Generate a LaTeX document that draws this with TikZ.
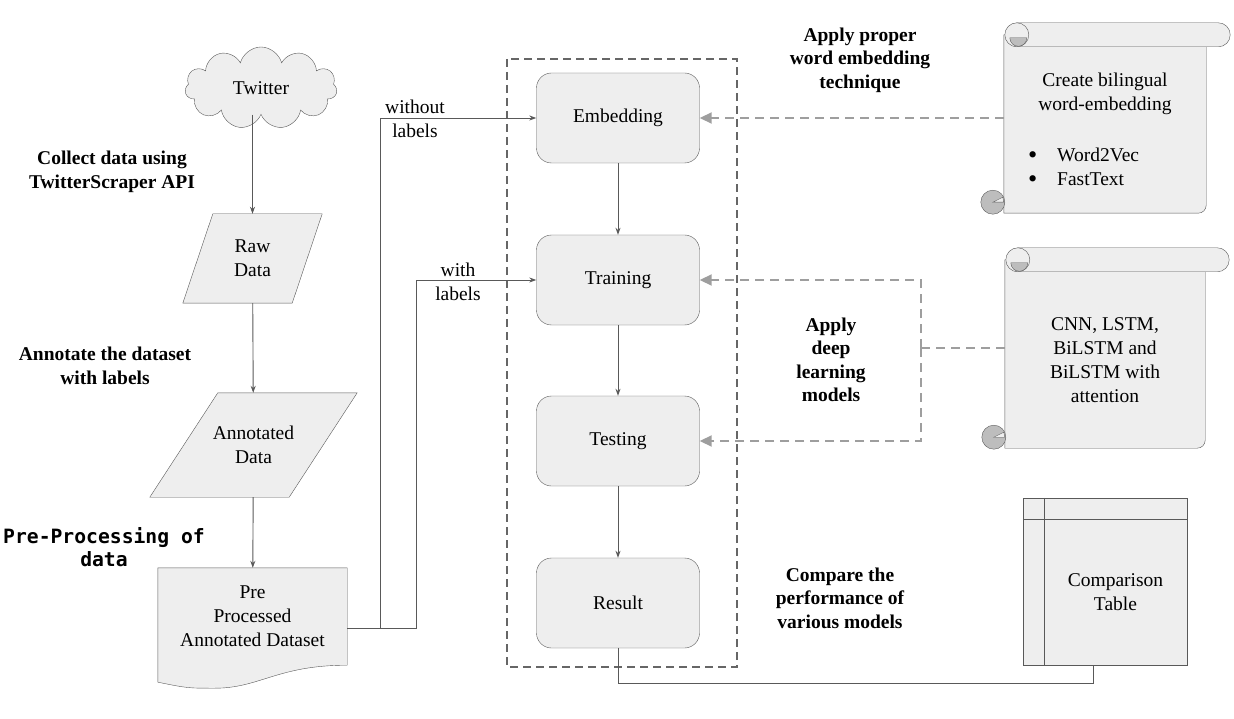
\documentclass[tikz,border=0pt]{standalone}
\usepackage{fontspec}
\setmainfont{Liberation Serif}
\newfontfamily\codefont{DejaVu Sans Mono}
\usetikzlibrary{positioning, arrows.meta, calc, shapes.symbols, backgrounds}
\definecolor{linea}{HTML}{595959}
\definecolor{relleno}{HTML}{EEEEEE}
\definecolor{sombra}{HTML}{BDBDBD}
\definecolor{trazo}{HTML}{9E9E9E}
\definecolor{grupo}{HTML}{666666}

% parallelogram behind a node
\newcommand{\slantbox}[2]{%
  \draw[draw=linea, fill=relleno] (#1.south west) -- ($(#1.north west)+(#2,0)$)
    -- (#1.north east) -- ($(#1.south east)-(#2,0)$) -- cycle;}
% scroll behind a node
\newcommand{\scrollframe}[1]{%
  \draw[draw=linea, fill=relleno] ($(#1.north west)+(0,-12)$) -- (#1.south west)
    -- ($(#1.south east)+(-8,0)$) arc[start angle=90, end angle=0, radius=8]
    -- ($(#1.north east)+(0,-12)$) -- cycle;
  \draw[draw=linea, fill=relleno, rounded corners=11.9pt] ($(#1.north west)+(2,-24)$) rectangle ($(#1.north east)+(24,0)$);
  \draw[draw=linea, fill=relleno] ($(#1.north west)+(13,-12)$) circle[radius=12];
  \draw[draw=linea, fill=sombra] ($(#1.north west)+(6,-9)$) arc[start angle=180, end angle=0, radius=8.5] -- cycle;
  \draw[draw=linea, fill=sombra] ($(#1.south west)+(-11,-11)$) circle[radius=12];
  \draw[draw=linea, fill=relleno] ($(#1.south west)+(-11,-11)$) -- ($(#1.south west)+(-1,-16)$)
    -- ($(#1.south west)+(0,-11)$) -- cycle;}
\newcommand{\bigdot}{\raisebox{-2pt}{\scalebox{1.35}{\textbullet}}}

\begin{document}
\begin{tikzpicture}[x=1pt, y=-1pt, font=\fontsize{19.5}{24}\selectfont,
    stage/.style={draw=linea, fill=relleno, rounded corners=15pt, minimum width=163pt, minimum height=90pt},
    holder/.style={inner sep=0pt, align=center},
    conn/.style={draw=linea, line width=0.9pt, -{Stealth[length=7pt,width=5pt]}},
    plain/.style={draw=linea, line width=0.9pt},
    hint/.style={draw=trazo, line width=1.8pt, dash pattern=on 9pt off 6pt, -{Triangle[length=12pt,width=11pt]}},
    hintline/.style={draw=trazo, line width=1.8pt, dash pattern=on 9pt off 6pt},
    note/.style={align=center, font=\fontsize{19.5}{23.5}\selectfont\bfseries}]
  \useasboundingbox (0,0) rectangle (1234,719);

  % left column
  \node[cloud, cloud puffs=11, aspect=1.9, draw=linea, fill=relleno, minimum width=152pt, minimum height=82pt, inner sep=0pt] (twitter) at (261,88) {Twitter};
  \node[holder, minimum width=139pt, minimum height=89pt] (raw) at (252.5,258.5) {Raw\\Data};
  \node[holder, minimum width=207pt, minimum height=104pt] (annot) at (253.5,445) {Annotated\\Data};
  \node[holder, minimum width=189pt, minimum height=97pt] (prep) at (252.5,616.5) {Pre\\Processed\\Annotated Dataset};

  \node[note] (collect) at (112,172) {Collect data using\\TwitterScraper API};
  \node[note] (annotate) at (105,366) {Annotate the dataset\\with labels};
  \node[align=center, font=\codefont\bfseries\fontsize{19.7}{23}\selectfont] (preproc) at (104,547) {Pre-Processing of\\data};

  % pipeline
  \node[stage] (embed) at (618,118) {Embedding};
  \node[stage] (train) at (618,280) {Training};
  \node[stage] (test) at (618,441) {Testing};
  \node[stage] (result) at (618,603) {Result};
  \draw[grupo, line width=1.8pt, dash pattern=on 8pt off 5pt] (507,59) rectangle (737,667);

  % right side
  \node[holder, minimum width=202pt, minimum height=166pt] (wordvec) at (1105,130)
    {Create bilingual\\word-embedding\\[27pt]
     \makebox[154pt][l]{\bigdot\hspace{20pt}Word2Vec}\\
     \makebox[154pt][l]{\bigdot\hspace{20pt}FastText}};
  \node[holder, minimum width=200pt, minimum height=176pt] (models) at (1105,360)
    {CNN, LSTM,\\BiLSTM and\\BiLSTM with\\attention};
  \node[holder, minimum width=143pt, minimum height=146pt] (cmp) at (1115.5,592) {Comparison\\Table};

  \node[note] (applyemb) at (860,60) {Apply proper\\word embedding\\technique};
  \node[note] (applydl) at (831,360) {Apply\\deep\\learning\\models};
  \node[note] (compare) at (840,598) {Compare the\\performance of\\various models};

  \begin{scope}[on background layer]
    \slantbox{raw}{30}
    \slantbox{annot}{68}
    \draw[draw=linea, fill=relleno] (prep.north west) -- (prep.north east) -- (prep.south east)
      .. controls +(-70,0) and +(45,0) .. ($(prep.south west)+(57,23)$)
      .. controls ($(prep.south west)+(30,23)$) .. ($(prep.south west)+(0,17)$) -- cycle;
    \scrollframe{wordvec}
    \scrollframe{models}
    \draw[draw=linea, fill=relleno] ($(cmp.north west)+(-21,-21)$) rectangle (cmp.south east);
    \draw[draw=linea] ($(cmp.north west)+(0,-21)$) -- (cmp.south west);
    \draw[draw=linea] ($(cmp.north west)+(-21,0)$) -- (cmp.north east);
  \end{scope}

  % connectors
  \draw[conn] (raw.north |- twitter.south) -- (raw.north);
  \draw[conn] (raw) -- (annot);
  \draw[conn] (annot) -- (prep);
  \coordinate (fork) at (380,628);
  \coordinate (fork2) at (416,628);
  \draw[plain] (prep.east |- fork) -- (fork);
  \draw[conn] (fork) |- (embed.west);
  \draw[conn] (fork) -- (fork2) |- (train.west);
  \node[align=center] (nolabels) at (415,119) {without\\labels};
  \node[align=center] (withlabels) at (458,282) {with\\labels};

  \draw[conn] (embed) -- (train);
  \draw[conn] (train) -- (test);
  \draw[conn] (test) -- (result);
  \draw[plain] (result.south) -- ++(0,35) -| ([xshift=-22.5pt]cmp.south);

  \draw[hint] (embed.east -| wordvec.west) -- (embed.east);
  \coordinate (dlfork) at (921,348);
  \draw[hintline] (models.west |- dlfork) -- (dlfork);
  \draw[hint] (dlfork) |- (train.east);
  \draw[hint] (dlfork) |- (test.east);
\end{tikzpicture}
\end{document}
